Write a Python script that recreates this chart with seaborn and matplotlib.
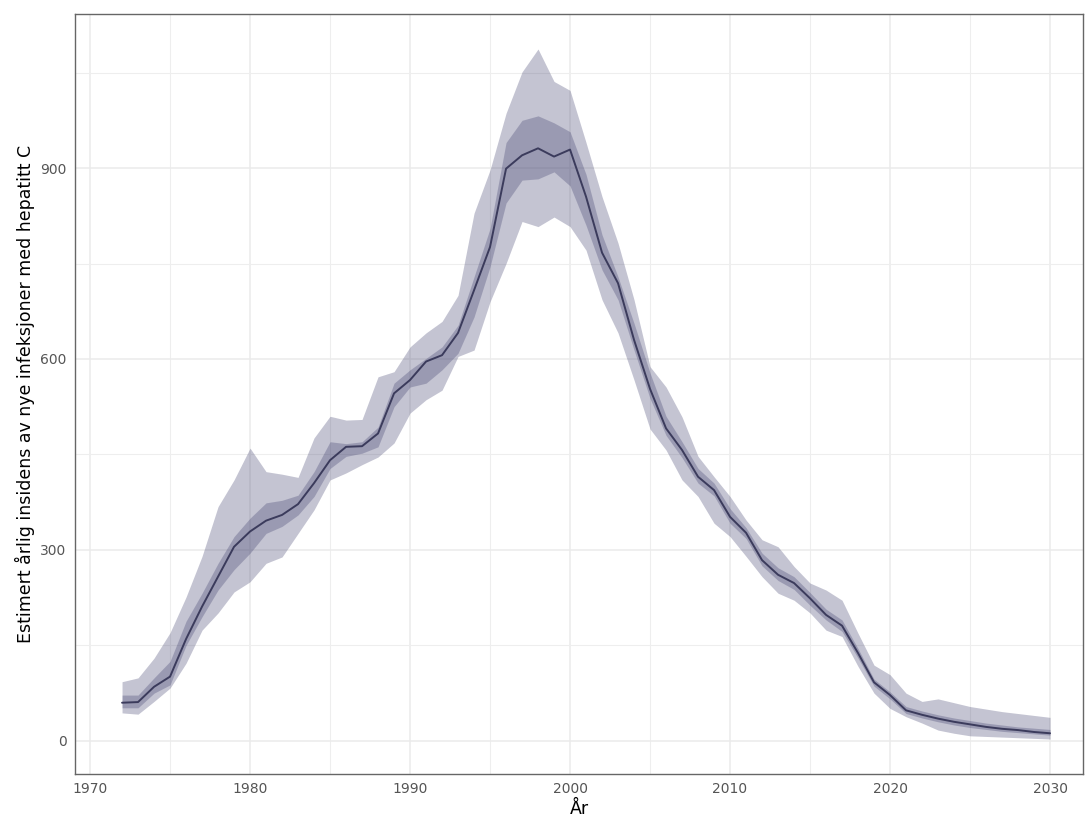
import numpy as np
import pandas as pd
import matplotlib
matplotlib.use("Agg")
import matplotlib.pyplot as plt
import seaborn as sns
from matplotlib.ticker import MultipleLocator

years = list(range(1972, 2031))

median = [60, 61, 85, 101, 160, 211, 258, 305, 329, 346,
          355, 372, 405, 441, 462, 463, 483, 546, 567, 596,
          606, 641, 708, 776, 899, 920, 931, 918, 929, 855,
          767, 719, 630, 553, 491, 457, 415, 394, 352, 327,
          284, 261, 248, 224, 198, 181, 138, 92, 72, 48,
          41, 35, 30, 26, 22, 19, 17, 14, 12]

inner_hi = [72, 72, 99, 125, 188, 232, 279, 321, 350, 374,
            378, 386, 423, 470, 467, 470, 493, 562, 583, 601,
            619, 653, 729, 805, 940, 975, 982, 971, 957, 890,
            795, 729, 656, 578, 510, 470, 428, 405, 365, 335,
            295, 272, 258, 233, 207, 190, 145, 97, 77, 54,
            47, 41, 36, 32, 28, 25, 22, 20, 18]

inner_lo = [52, 52, 75, 88, 150, 195, 237, 269, 295, 326,
            337, 355, 384, 428, 447, 452, 462, 525, 556, 562,
            583, 609, 666, 745, 845, 881, 883, 894, 872, 810,
            740, 693, 614, 538, 480, 445, 405, 385, 342, 318,
            275, 252, 238, 213, 190, 172, 130, 86, 66, 43,
            36, 30, 25, 21, 18, 15, 13, 11, 9]

outer_hi = [93, 99, 130, 170, 226, 290, 368, 410, 460, 423,
            419, 414, 476, 510, 504, 505, 572, 580, 619, 641,
            659, 700, 829, 897, 986, 1051, 1087, 1036, 1022, 940,
            855, 782, 693, 588, 556, 509, 447, 415, 384, 347,
            316, 305, 274, 248, 237, 221, 169, 119, 104, 75,
            62, 66, 60, 54, 50, 46, 43, 40, 37]

outer_lo = [44, 42, 62, 83, 122, 174, 201, 234, 250, 279,
            289, 326, 363, 410, 421, 434, 446, 468, 515, 536,
            551, 604, 614, 690, 750, 816, 808, 823, 808, 771,
            693, 641, 567, 490, 457, 410, 384, 342, 321, 290,
            258, 232, 221, 201, 174, 164, 117, 75, 51, 38,
            28, 17, 12, 8, 7, 6, 5, 4, 3]

x_ticks = [1970, 1980, 1990, 2000, 2010, 2020, 2030]
y_ticks = [0, 300, 600, 900]
x_label = "År"
y_label = "Estimert årlig insidens av nye infeksjoner med hepatitt C"

df = pd.DataFrame({"year": years, "median": median,
                   "inner_lo": inner_lo, "inner_hi": inner_hi,
                   "outer_lo": outer_lo, "outer_hi": outer_hi})

sns.set_style("white")
plt.rcParams['font.family'] = ['DejaVu Sans']

fig = plt.figure(figsize=(10.85, 8.18), dpi=100)
ax = fig.add_axes([75/1085, 1 - 774/818, (1083-75)/1085, (774-14)/818])

band_col = "#3c3c6b"
ax.fill_between(df["year"], df["outer_lo"], df["outer_hi"], color=band_col,
                alpha=0.3, linewidth=0, zorder=2)
ax.fill_between(df["year"], df["inner_lo"], df["inner_hi"], color=band_col,
                alpha=0.3, linewidth=0, zorder=3)
sns.lineplot(data=df, x="year", y="median", ax=ax, color="#3b3b5c",
             linewidth=1.4, zorder=4)

ax.set_xlim(1969.06, 2032.06)
ax.set_ylim(-52, 1142)
ax.set_xticks(x_ticks)
ax.set_yticks(y_ticks)
ax.xaxis.set_minor_locator(MultipleLocator(5))
ax.yaxis.set_minor_locator(MultipleLocator(150))
ax.grid(which="major", color="#EBEBEB", linewidth=1.1, zorder=0)
ax.grid(which="minor", color="#EEEEEE", linewidth=0.8, zorder=0)
ax.set_axisbelow(True)

for s in ax.spines.values():
    s.set_color("#666666")
    s.set_linewidth(1.0)

ax.tick_params(axis="both", which="major", length=4, width=1,
               color="#333333", labelcolor="#555555", labelsize=10, pad=2)
ax.tick_params(axis="both", which="minor", length=0)
ax.set_xlabel(x_label, fontsize=12.5, color="black", labelpad=3)
ax.set_ylabel(y_label, fontsize=12.5, color="black", labelpad=4)

fig.savefig("out.png", dpi=100)
